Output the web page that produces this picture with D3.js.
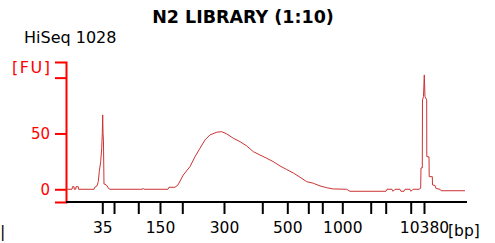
<!DOCTYPE html>
<html>
<head>
<meta charset="utf-8">
<script src="https://cdn.jsdelivr.net/npm/d3@7"></script>
<style>
  body { margin: 0; background: #fff; }
  text { font-family: "DejaVu Sans", Verdana, sans-serif; }
</style>
</head>
<body>
<div id="chart"></div>
<script>

// Ladder markers: migration time (s) and size (bp)
var ladderTime = [37.24, 39.58, 44.42, 48.75, 53.20, 61.52, 69.16, 74.15, 78.34, 81.13, 85.12, 90.79, 93.78, 98.77, 101.42];
var ladderBp   = [35, 50, 100, 150, 200, 300, 400, 500, 600, 700, 1000, 2000, 3000, 7000, 10380];
var labelledBp = [35, 150, 300, 500, 1000, 10380];
var fuTicks = [0, 50];

// Electropherogram trace: time (s) and fluorescence (FU)
var traceTime = [30, 31.2, 31.3, 31.6, 31.65, 31.94, 32.0, 32.45, 32.5, 35.59, 35.79, 36.18, 36.44, 36.64, 36.92, 37.12, 37.24, 37.32, 37.39, 37.47, 37.58, 37.78, 38.18, 38.48, 38.78,
  45.26, 45.36, 45.56, 50.35, 50.55, 51.75, 52.34, 53.40, 54.74, 55.74, 56.73, 57.73, 58.73, 60.07, 61.06, 62.06, 63.38, 64.71, 66.05, 67.37, 68.70, 70.04, 71.36, 72.69, 74.03, 75.35, 76.68, 78.02, 79.34, 80.67, 82.01, 83.33, 85.99, 86.65,
  93.84, 94.04, 95.04, 95.24, 95.64, 96.63, 96.83, 97.43, 97.63, 98.63, 98.83, 99.23, 100.42, 100.76, 100.82, 101.08, 101.12, 101.32, 101.48, 101.62, 101.96, 101.98, 102.42, 102.46, 103.08, 103.12, 103.62, 103.81, 104.61, 104.81, 109.6];
var traceFU = [0, 0, 2.3, 2.3, 0, 0, 2.3, 2.3, 0, 0, 2, 3, 6.8, 15.8, 24.7, 36.7, 50.2, 66.6, 50.4, 44, 4.7, 4.5, 3.2, 0.7, 0,
  0, 0.9, 0, 0, 1.8, 1.8, 3.9, 12.8, 20.3, 29.2, 36.7, 44.2, 48.7, 51.1, 51.6, 49.6, 45.7, 42.7, 38.8, 33.7, 30.7, 27.8, 24.7, 20.9, 17.7, 14.6, 10.8, 6.8, 5.4, 3.0, 1.4, 0.3, 0, -1.8,
  -1.8, 0, 0, -1.8, 0, 0, -1.8, -1.8, 0, 0, -1.8, 0, 0, 0.9, 19.1, 19.1, 80, 83, 102.4, 83, 80, 29.2, 29, 11.3, 11.3, 3.9, 3.4, 0.7, 0, -1.3, -1.3];

var width = 495, height = 243;
var svg = d3.select("#chart").append("svg")
  .attr("width", width)
  .attr("height", height);

var xx = d3.scaleLinear().domain([30, 110]).range([66, 467]);
var yy = d3.scaleLinear().domain([-11.4, 114]).range([202, 62]);

// title
svg.append("text")
  .attr("x", 243).attr("y", 23)
  .attr("text-anchor", "middle")
  .style("font-weight", "bold")
  .style("font-size", "17.5px")
  .text("N2 LIBRARY (1:10)");

svg.append("text")
  .attr("x", 24).attr("y", 43)
  .style("font-size", "16px")
  .text("HiSeq 1028");

// y axis (red)
var yAxis = svg.append("g")
  .attr("transform", "translate(66,0)")
  .call(d3.axisLeft(yy).tickValues(fuTicks.concat([100])).tickSize(11).tickPadding(5)
    .tickFormat(function(d) { return d == 100 ? "" : d; }));
yAxis.select(".domain").attr("stroke", "#f00").attr("stroke-width", 2);
yAxis.selectAll(".tick line").attr("stroke", "#f00").attr("stroke-width", 2);
yAxis.selectAll(".tick text")
  .attr("fill", "#f00")
  .style("font-size", "15px")
  .style("font-family", "DejaVu Sans");

svg.append("text")
  .attr("x", 12).attr("y", 73)
  .attr("fill", "#f00")
  .style("font-size", "16px")
  .style("letter-spacing", "1.5px")
  .text("[FU]");

// x axis (black)
var xAxis = svg.append("g")
  .attr("transform", "translate(0,202)")
  .call(d3.axisBottom(xx).tickValues(ladderTime).tickSize(12).tickPadding(8)
    .tickFormat(function(d, i) { return labelledBp.indexOf(ladderBp[i]) >= 0 ? ladderBp[i] : ""; }));
xAxis.select(".domain").attr("stroke", "#000").attr("stroke-width", 2).attr("d", "M66,0H467");
xAxis.selectAll(".tick line").attr("stroke", "#000").attr("stroke-width", 2);
xAxis.selectAll(".tick text")
  .attr("fill", "#000")
  .style("font-size", "15.5px")
  .style("font-family", "DejaVu Sans");

svg.append("text")
  .attr("x", 448).attr("y", 236)
  .style("font-size", "15.5px")
  .text("[bp]");

svg.append("text")
  .attr("x", 0).attr("y", 237)
  .style("font-size", "16px")
  .text("|");

// trace
var trace = traceTime.map(function(t, i) { return {t: t, fu: traceFU[i]}; });
svg.append("path")
  .datum(trace)
  .attr("fill", "none")
  .attr("stroke", "#cc3333")
  .attr("stroke-width", 1)
  .attr("d", d3.line()
    .x(function(d) { return xx(d.t); })
    .y(function(d) { return yy(d.fu); }));

</script>
</body>
</html>
